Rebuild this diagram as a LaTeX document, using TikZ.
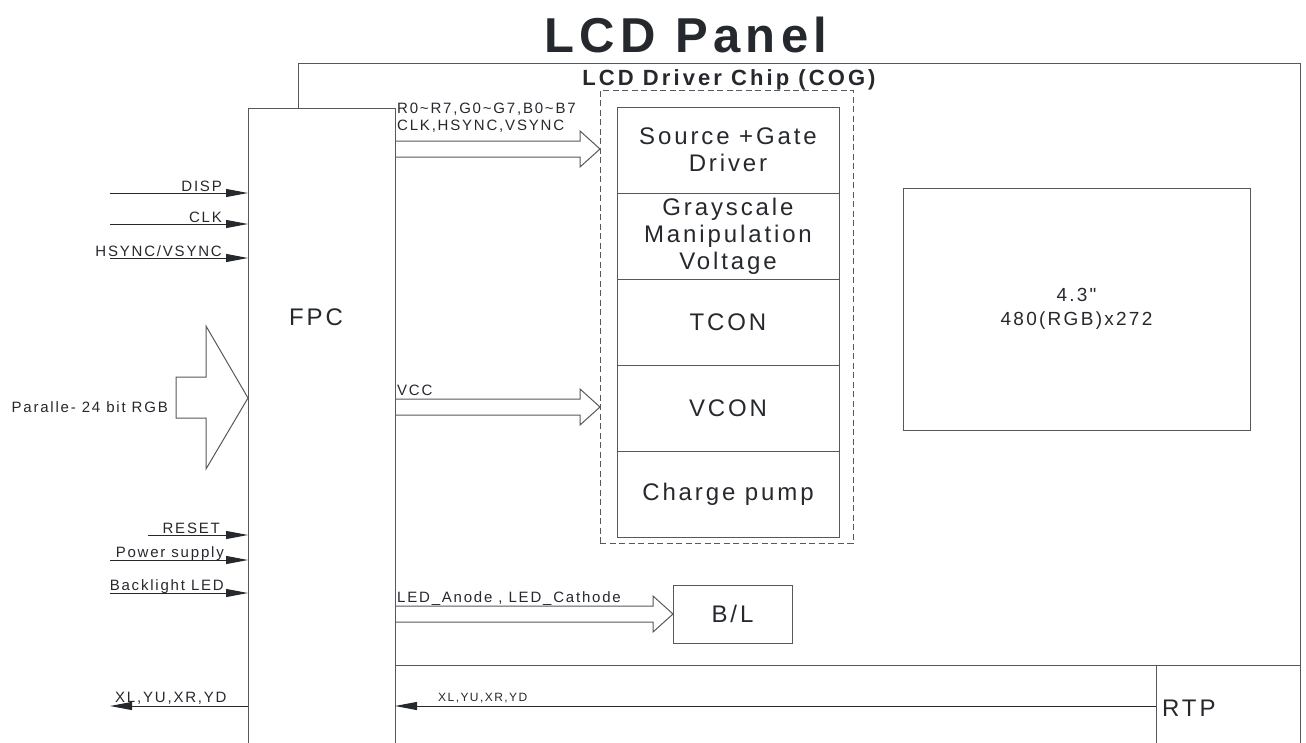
\documentclass[tikz,border=0pt]{standalone}
\usepackage{fontspec}
\setmainfont{Liberation Sans}[LetterSpace=12]
\newfontfamily\headfont{Liberation Sans}[LetterSpace=11]
\newfontfamily\chipfont{Liberation Sans}[LetterSpace=14]
\newfontfamily\sizefont{Liberation Sans}[LetterSpace=12,Ligatures=TeXOff]
\usetikzlibrary{arrows.meta,positioning,calc}

\definecolor{ink}{HTML}{25282D}
\definecolor{edge}{HTML}{55585C}

\tikzset{
  box/.style={draw=edge,line width=1pt,outer sep=0pt,inner sep=0pt},
  blk/.style={box,minimum width=222,minimum height=86,align=center,
    text=ink,font=\fontsize{24}{27}\selectfont},
  lbl/.style={text=ink,inner sep=0pt,font=\fontsize{15}{17}\selectfont},
  tiny/.style={text=ink,inner sep=0pt,font=\fontsize{12}{14}\selectfont},
  sig/.style={draw=ink,line width=1pt,-{Triangle[length=22pt,width=8pt]}},
  bus/.style={draw=edge,line width=1pt,line join=miter},
  cogbox/.style={draw=edge,line width=1pt,dash pattern=on 6pt off 3.5pt,outer sep=0pt}
}

% hollow bus arrow, from #1 to tip #2 (same height)
\newcommand{\busarrow}[2]{%
  \draw[bus] ($(#1)+(0,-8)$) -- ($(#2)+(-20,-8)$) -- ($(#2)+(-20,-18)$)
    -- (#2) -- ($(#2)+(-20,18)$) -- ($(#2)+(-20,8)$) -- ($(#1)+(0,8)$);}

\begin{document}
\begin{tikzpicture}[x=1pt,y=-1pt]
\useasboundingbox (0,0) rectangle (1306,742);

\node[text=ink,anchor=base,font=\headfont\bfseries\fontsize{49}{52}\selectfont]
  (title) at (686,52) {LCD Panel};

% panel and FPC
\node[box,minimum width=1002,minimum height=720,anchor=north west] (panel) at (298,63) {};
\node[box,fill=white,minimum width=147,minimum height=680,anchor=north west] (fpc) at (248,108) {};
\node[text=ink,font=\fontsize{24}{27}\selectfont] (fpclbl) at (316,317) {FPC};
\node[text=ink,anchor=base,font=\chipfont\bfseries\fontsize{22}{26}\selectfont]
  (coglbl) at (729,85) {LCD Driver Chip (COG)};

% driver chip
\node[cogbox,minimum width=253,minimum height=453,anchor=north west] (cog) at (600,90) {};
\node[blk] (src) at (728,150) {Source +Gate\\Driver};
\node[blk,below=0pt of src] (gray) {Grayscale\\Manipulation\\Voltage};
\node[blk,below=0pt of gray] (tcon) {TCON};
\node[blk,below=0pt of tcon] (vcon) {VCON};
\node[blk,below=0pt of vcon] (pump) {Charge pump};

\node[box,minimum width=347,minimum height=242,align=center,text=ink,
  font=\sizefont\fontsize{19}{24}\selectfont] (lcd) at (1076.5,309) {4.3"\\480(RGB)x272};
\node[box,minimum width=119,minimum height=58,text=ink,
  font=\fontsize{24}{27}\selectfont] (bl) at (732.5,614) {B/L};

% touch panel
\node[box,minimum width=144,minimum height=120,anchor=north west] (rtp) at (1156,665) {};
\node[text=ink,anchor=west,inner sep=0pt,font=\fontsize{24}{27}\selectfont]
  (rtplbl) at (1162,708) {RTP};
\draw[box] (fpc.east |- rtp.north west) -- (rtp.north west);

% signals into FPC
\node[lbl,anchor=base east] (disp) at (222,191) {DISP};
\node[lbl,anchor=base east] (clk) at (222,222) {CLK};
\node[lbl,anchor=base east] (sync) at (222,256) {HSYNC/VSYNC};
\node[lbl,anchor=base east] (reset) at (220,533) {RESET};
\node[lbl,anchor=base east] (power) at (224,557) {Power supply};
\node[lbl,anchor=base east] (bkl) at (224,590) {Backlight LED};
\coordinate (dispin) at (110,193);
\coordinate (clkin) at (110,224);
\coordinate (syncin) at (110,258);
\coordinate (resetin) at (148,535);
\coordinate (powerin) at (110,560);
\coordinate (bklin) at (110,593);
\draw[sig] (dispin) -- (dispin -| fpc.west);
\draw[sig] (clkin) -- (clkin -| fpc.west);
\draw[sig] (syncin) -- (syncin -| fpc.west);
\draw[sig] (resetin) -- (resetin -| fpc.west);
\draw[sig] (powerin) -- (powerin -| fpc.west);
\draw[sig] (bklin) -- (bklin -| fpc.west);

% parallel RGB bus
\coordinate (rgbtip) at (248,398);
\draw[bus] (rgbtip) -- ++(-42,-72) -- ++(0,51) -- ++(-30,0) -- ++(0,41)
  -- ++(30,0) -- ++(0,51) -- cycle;
\node[lbl,anchor=base east] (rgb) at (168,412) {Paralle- 24 bit RGB};

% touch lines out
\node[lbl,anchor=base west] (xlout) at (115,702) {XL,YU,XR,YD};
\coordinate (xlend) at (110,706);
\draw[sig] (xlend -| fpc.west) -- (xlend);
\node[tiny,anchor=base west] (xlin) at (438,701) {XL,YU,XR,YD};
\coordinate (xlstart) at (1156,706);
\draw[sig] (xlstart) -- (xlstart -| fpc.east);

% buses from FPC
\coordinate (rgbA) at (395,149);
\coordinate (rgbB) at (600,149);
\coordinate (vccA) at (395,407);
\coordinate (vccB) at (600,407);
\coordinate (ledA) at (395,614);
\busarrow{rgbA}{rgbB}
\busarrow{vccA}{vccB}
\busarrow{ledA}{bl.west}
\node[lbl,anchor=base west] (rgbl) at (397,113) {R0\textasciitilde R7,G0\textasciitilde G7,B0\textasciitilde B7};
\node[lbl,anchor=base west] (ctl) at (397,130) {CLK,HSYNC,VSYNC};
\node[lbl,anchor=base west] (vcc) at (397,395) {VCC};
\node[lbl,anchor=base west] (led) at (397,602) {LED\_Anode , LED\_Cathode};
\end{tikzpicture}
\end{document}
